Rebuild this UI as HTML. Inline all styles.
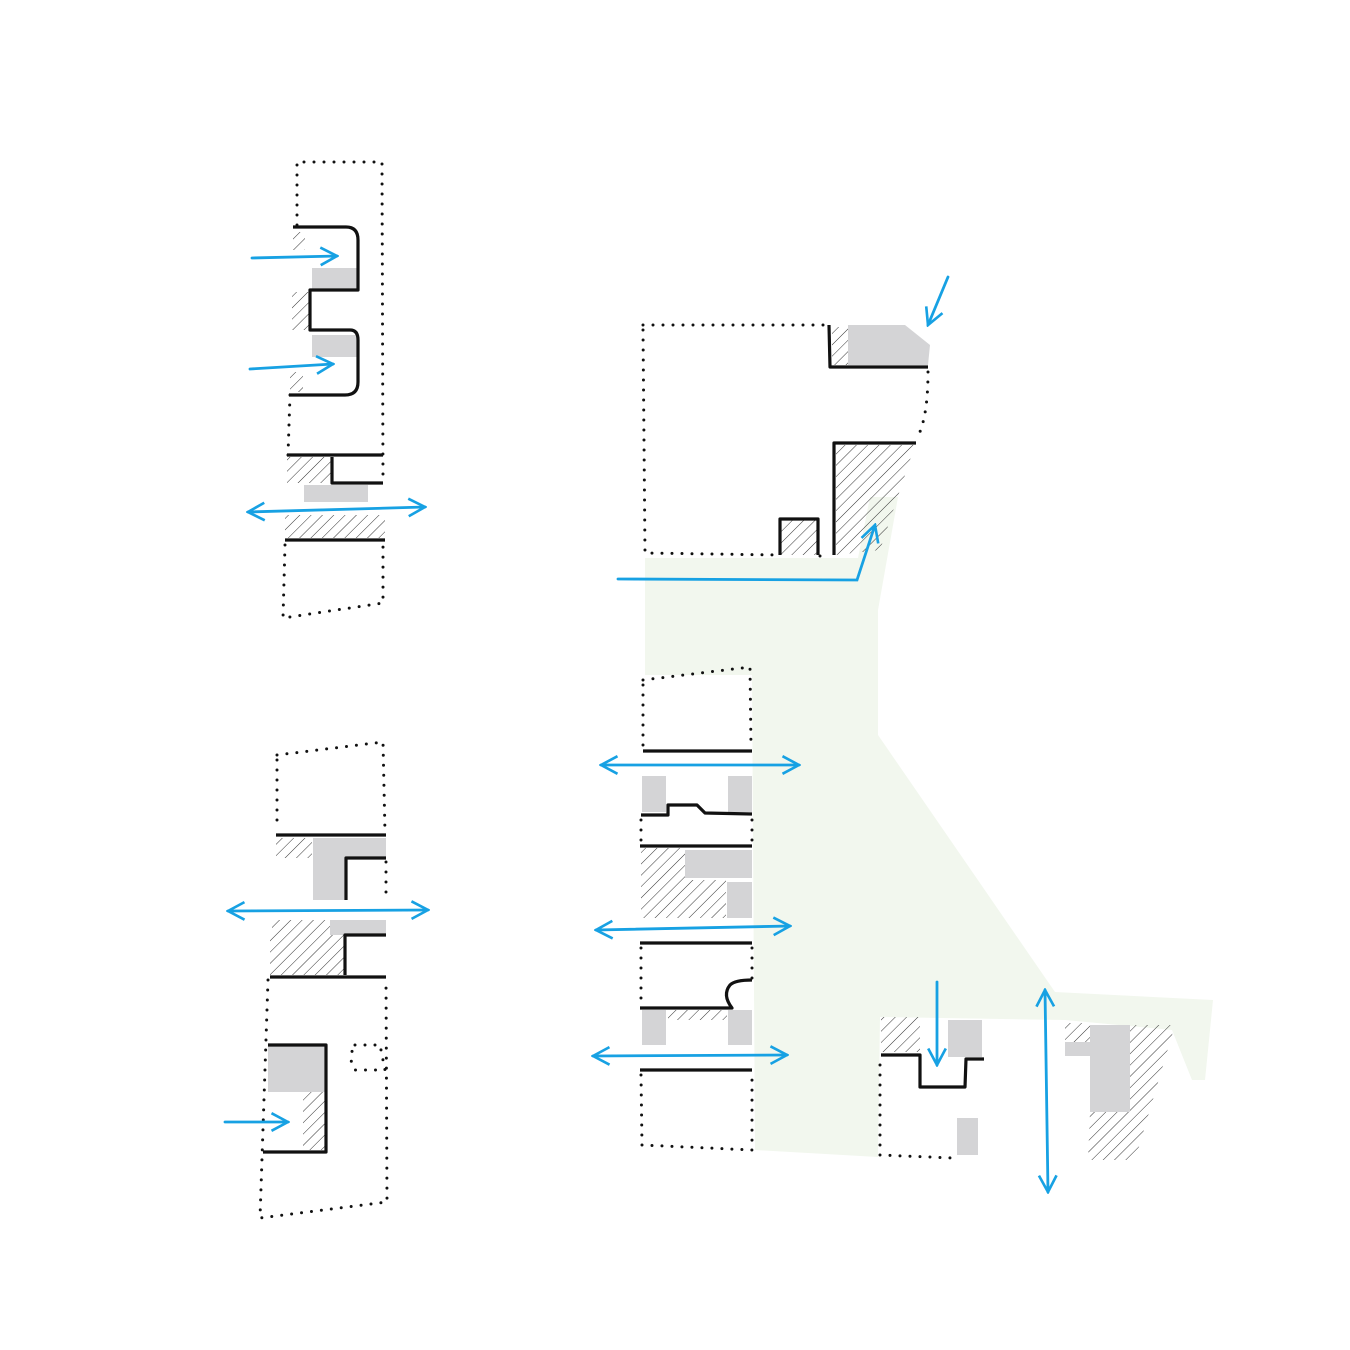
<!DOCTYPE html>
<html><head><meta charset="utf-8"><style>html,body{margin:0;padding:0;background:#fff}svg{display:block}</style></head>
<body>
<svg width="1350" height="1350" viewBox="0 0 1350 1350" xmlns="http://www.w3.org/2000/svg">
<defs>
<pattern id="h" patternUnits="userSpaceOnUse" width="8" height="8" patternTransform="rotate(45)">
<line x1="0" y1="0" x2="0" y2="8" stroke="#333" stroke-width="1"/>
</pattern>
<marker id="a" viewBox="0 0 20 20" refX="18" refY="10" markerWidth="22" markerHeight="22" markerUnits="userSpaceOnUse" orient="auto-start-reverse">
<path d="M3 2 L18 10 L3 18" fill="none" stroke="#17a1e3" stroke-width="2.4"/>
</marker>
</defs>
<rect width="1350" height="1350" fill="#fff"/>
<polygon fill="#f2f7ee" points="645,558 858,558 870,497 898,497 878,610 878,735 1055,992 1213,1000 1205,1080 1192,1080 1172,1030 1065,1020 880,1017 878,1157 755,1150 752,675 645,675"/>

<g fill="#d4d4d6">
<rect x="312" y="268" width="45" height="22"/>
<rect x="312" y="335" width="45" height="22"/>
<rect x="304" y="485" width="64" height="17"/>
<rect x="313" y="838" width="73" height="20"/>
<rect x="313" y="858" width="32" height="42"/>
<rect x="330" y="920" width="56" height="15"/>
<rect x="268" y="1045" width="57" height="47"/>
<polygon points="848,325 905,325 930,345 928,365 848,365"/>
<rect x="642" y="776" width="24" height="36"/>
<rect x="728" y="776" width="24" height="36"/>
<rect x="685" y="850" width="67" height="28"/>
<rect x="727" y="882" width="25" height="36"/>
<rect x="642" y="1010" width="24" height="35"/>
<rect x="728" y="1010" width="24" height="35"/>
<rect x="948" y="1020" width="34" height="37"/>
<rect x="957" y="1118" width="21" height="37"/>
<rect x="1065" y="1042" width="28" height="14"/>
<rect x="1090" y="1025" width="40" height="87"/>
</g>

<g fill="url(#h)">
<rect x="293" y="232" width="12" height="18"/>
<rect x="292" y="292" width="18" height="38"/>
<rect x="290" y="372" width="13" height="20"/>
<rect x="287" y="457" width="45" height="26"/>
<rect x="285" y="515" width="100" height="23"/>
<rect x="276" y="838" width="36" height="20"/>
<rect x="272" y="920" width="58" height="15"/>
<rect x="270" y="935" width="75" height="40"/>
<rect x="303" y="1092" width="22" height="58"/>
<rect x="832" y="327" width="16" height="38"/>
<polygon points="836,445 915,445 880,550 836,555"/>
<rect x="780" y="520" width="38" height="35"/>
<rect x="641" y="848" width="44" height="32"/>
<polygon points="641,880 726,880 726,918 641,918"/>
<rect x="668" y="1010" width="59" height="10"/>
<rect x="881" y="1017" width="39" height="35"/>
<rect x="1065" y="1023" width="25" height="19"/>
<polygon points="1130,1025 1175,1025 1135,1160 1088,1160 1090,1112 1130,1112"/>
</g>

<g fill="none" stroke="#111" stroke-width="3" stroke-linecap="round" stroke-dasharray="0 10">
<path d="M297,225 L297,162 L382,162 L383,480"/>
<path d="M290,395 L288,455"/>
<path d="M285,545 L283,618 L383,603 L383,545"/>
<path d="M277,755 L383,742 L385,833"/>
<path d="M277,760 L277,830"/>
<path d="M386,862 L386,900"/>
<path d="M268,980 L260,1218 L387,1202 L386,980"/>
<path d="M355,1045 L380,1045 L385,1070 L355,1070 Q347,1058 355,1045"/>
<path d="M643,325 L828,325"/>
<path d="M643,330 L645,553 L778,555"/>
<path d="M820,556 L830,556"/>
<path d="M928,372 Q928,420 916,440"/>
<path d="M643,680 L750,667 L751,748"/>
<path d="M643,685 L643,748"/>
<path d="M641,820 L641,845 M752,820 L752,845"/>
<path d="M641,948 L641,1006 M752,948 L752,980"/>
<path d="M641,1075 L642,1145 L752,1150 L752,1075"/>
<path d="M880,1065 L880,1155 L953,1158"/>
</g>

<g fill="none" stroke="#111" stroke-width="3.2" stroke-linejoin="round">
<path d="M293,227 L346,227 Q358,227 358,240 L358,290 L310,290 L310,330 L350,330 Q358,330 358,340 L358,382 Q358,395 345,395 L289,395"/>
<path d="M287,455 L383,455"/>
<path d="M332,457 L332,483 L383,483"/>
<path d="M285,540 L385,540"/>
<path d="M276,835 L386,835"/>
<path d="M346,900 L346,858 L386,858"/>
<path d="M345,975 L345,935 L386,935"/>
<path d="M270,977 L386,977"/>
<path d="M268,1045 L326,1045 L326,1152 L263,1152"/>
<path d="M829,325 L830,367 L928,367"/>
<path d="M834,555 L834,443 L916,443"/>
<path d="M780,555 L780,519 L818,519 L818,555"/>
<path d="M643,751 L752,751"/>
<path d="M641,815 L668,815 L668,805 L697,805 L705,813 L752,814"/>
<path d="M640,846 L752,846"/>
<path d="M640,943 L752,943"/>
<path d="M640,1008 L732,1008 Q722,995 730,985 Q735,980 752,980"/>
<path d="M640,1070 L752,1070"/>
<path d="M881,1055 L920,1055 L920,1087 L965,1087 L966,1059 L984,1059"/>
</g>

<g fill="none" stroke="#17a1e3" stroke-width="2.8" stroke-linecap="round">
<path d="M252,258 L337,256" marker-end="url(#a)"/>
<path d="M250,369 L333,364" marker-end="url(#a)"/>
<path d="M248,512 L425,507" marker-start="url(#a)" marker-end="url(#a)"/>
<path d="M228,911 L428,910" marker-start="url(#a)" marker-end="url(#a)"/>
<path d="M225,1122 L288,1122" marker-end="url(#a)"/>
<path d="M618,579 L857,580 L875,525" marker-end="url(#a)"/>
<path d="M948,277 L928,325" marker-end="url(#a)"/>
<path d="M601,765 L799,765" marker-start="url(#a)" marker-end="url(#a)"/>
<path d="M596,930 L790,926" marker-start="url(#a)" marker-end="url(#a)"/>
<path d="M593,1056 L787,1055" marker-start="url(#a)" marker-end="url(#a)"/>
<path d="M937,982 L937,1065" marker-end="url(#a)"/>
<path d="M1045,990 L1048,1192" marker-start="url(#a)" marker-end="url(#a)"/>
</g>
</svg>
</body></html>
